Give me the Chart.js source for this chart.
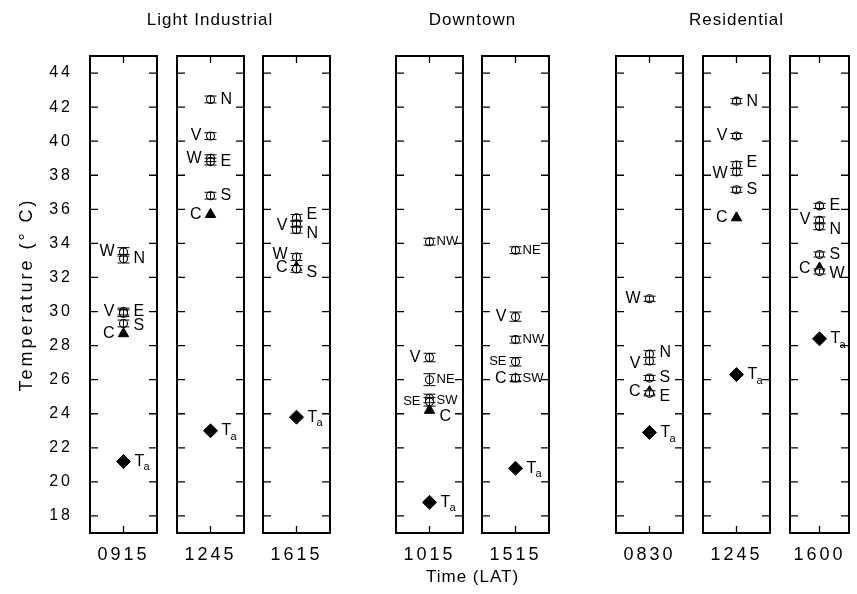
<!DOCTYPE html>
<html>
<head>
<meta charset="utf-8">
<script src="https://cdn.jsdelivr.net/npm/chart.js@4"></script>
<style>
  body { margin: 0; background: #fff; }
  #wrap { position: relative; width: 857px; height: 594px; overflow: hidden; }
  #wrap canvas { position: absolute; left: 0; top: 0; }
</style>
</head>
<body>
<div id="wrap"></div>
<script>
/* ===============================
   DATA
=============================== */
const times = ["0915", "1245", "1615", "1015", "1515", "0830", "1245", "1600"];
const siteNames = ["Light Industrial", "Downtown", "Residential"];
const siteOfPanel = [0, 0, 0, 1, 1, 2, 2, 2];

const stationNames = [
    ["W", "N", "V", "E", "S"],
    ["N", "V", "W", "E", "S"],
    ["E", "V", "N", "W", "S"],
    ["NW", "V", "NE", "SE", "SW"],
    ["NE", "V", "NW", "SE", "SW"],
    ["W", "N", "V", "S", "E"],
    ["N", "V", "E", "W", "S"],
    ["E", "V", "N", "S", "W"]
];
const stationTemps = [
    [33.5, 33.1, 30.0, 29.9, 29.3],
    [42.45, 40.3, 39.0, 38.8, 36.8],
    [35.5, 35.15, 34.8, 33.2, 32.5],
    [34.1, 27.3, 26.0, 24.9, 24.7],
    [33.6, 29.7, 28.35, 27.05, 26.1],
    [30.75, 27.5, 27.1, 26.1, 25.2],
    [42.35, 40.3, 38.6, 38.2, 37.15],
    [36.2, 35.35, 35.0, 33.35, 32.35]
];
const stationErrs = [
    [0.25, 0.25, 0.2, 0.2, 0.2],
    [0.2, 0.2, 0.2, 0.2, 0.2],
    [0.2, 0.2, 0.2, 0.2, 0.2],
    [0.2, 0.25, 0.35, 0.25, 0.25],
    [0.2, 0.27, 0.2, 0.25, 0.2],
    [0.15, 0.2, 0.2, 0.15, 0.15],
    [0.15, 0.15, 0.2, 0.2, 0.15],
    [0.15, 0.2, 0.2, 0.15, 0.15]
];
const coreTemps = [28.7, 35.7, 32.6, 24.2, 26.05, 25.3, 35.5, 32.55];   // C
const airTemps = [21.2, 23.0, 23.8, 18.8, 20.8, 22.9, 26.3, 28.4];      // Ta
const yMin = 17;
const yMax = 45;
const yTicks = [18, 20, 22, 24, 26, 28, 30, 32, 34, 36, 38, 40, 42, 44];

/* ===============================
   LAYOUT
=============================== */
const W = 857, H = 594;
const panelLeft = [90, 177, 263, 396, 482, 616, 703, 790];
const panelWidth = 67;
const plotTop = 56, plotBottom = 533;
const labelSides = [
    ["L", "R", "L", "R", "R"],
    ["R", "L", "L", "R", "R"],
    ["R", "L", "R", "L", "R"],
    ["R", "L", "R", "L", "R"],
    ["R", "L", "R", "L", "R"],
    ["L", "R", "L", "R", "R"],
    ["R", "L", "R", "L", "R"],
    ["R", "L", "R", "R", "R"]
];
// small vertical label shifts (px) where letters would collide
const labelNudge = [
    [0, 0, 0, -2, 2],
    [0, 0, 0, 0, 0],
    [-3, 2, 4, -2, 4],
    [0, 0, 0, 3, -1],
    [0, 0, 0, 0, 0],
    [0, -2, 3, 0, 3],
    [0, 0, -2, 2, 0],
    [0, -1, 3, 0, 2]
];
const coreSides = ["L", "L", "L", "R", "L", "L", "L", "L"];
const FONT = "'Liberation Sans', Arial, sans-serif";

/* ===============================
   PANEL PLUGIN
=============================== */
function panelPlugin(i) {
    return {
        id: "panel" + i,
        beforeDraw(chart) {
            chart.ctx.letterSpacing = "3px";
        },
        beforeDatasetsDraw(chart) {
            chart.ctx.letterSpacing = "0px";
        },
        afterDatasetsDraw(chart) {
            const ctx = chart.ctx;
            const a = chart.chartArea;
            const ys = chart.scales.y;
            const cx = chart.scales.x.getPixelForValue(0);

            ctx.save();
            ctx.strokeStyle = "#000";
            ctx.fillStyle = "#000";

            /* error bars */
            ctx.lineWidth = 1;
            stationTemps[i].forEach((t, k) => {
                const e = stationErrs[i][k];
                const y1 = ys.getPixelForValue(t + e);
                const y2 = ys.getPixelForValue(t - e);
                ctx.beginPath();
                ctx.moveTo(cx, y1); ctx.lineTo(cx, y2);
                ctx.moveTo(cx - 6, y1); ctx.lineTo(cx + 6, y1);
                ctx.moveTo(cx - 6, y2); ctx.lineTo(cx + 6, y2);
                ctx.stroke();
            });

            /* station labels */
            ctx.textBaseline = "middle";
            stationNames[i].forEach((n, k) => {
                const y = ys.getPixelForValue(stationTemps[i][k]) + labelNudge[i][k];
                ctx.font = (n.length > 1 ? "13px " : "16px ") + FONT;
                if (labelSides[i][k] === "L") {
                    ctx.textAlign = "right";
                    ctx.fillText(n, cx - 9, y);
                } else {
                    ctx.textAlign = "left";
                    ctx.fillText(n, cx + (n.length > 1 ? 7 : 10), y);
                }
            });

            /* C label */
            ctx.font = "16px " + FONT;
            const yc = ys.getPixelForValue(coreTemps[i]);
            if (coreSides[i] === "L") {
                ctx.textAlign = "right";
                ctx.fillText("C", cx - 9, yc);
            } else {
                ctx.textAlign = "left";
                ctx.fillText("C", cx + 10, yc + 6);
            }

            /* Ta label */
            const ya = ys.getPixelForValue(airTemps[i]);
            ctx.textAlign = "left";
            ctx.font = "16px " + FONT;
            ctx.fillText("T", cx + 11, ya);
            ctx.font = "11px " + FONT;
            ctx.fillText("a", cx + 20, ya + 6);

            /* frame */
            ctx.lineWidth = 2;
            ctx.strokeRect(a.left, a.top, a.right - a.left, a.bottom - a.top);

            /* inner ticks */
            ctx.lineWidth = 1.3;
            ctx.beginPath();
            yTicks.forEach(v => {
                const y = ys.getPixelForValue(v);
                ctx.moveTo(a.left, y); ctx.lineTo(a.left + 8, y);
                ctx.moveTo(a.right, y); ctx.lineTo(a.right - 8, y);
            });
            ctx.moveTo(cx, a.top); ctx.lineTo(cx, a.top + 7);
            ctx.moveTo(cx, a.bottom); ctx.lineTo(cx, a.bottom - 7);
            ctx.stroke();

            /* group titles */
            const s = siteOfPanel[i];
            if (siteOfPanel.indexOf(s) === i) {
                const first = panelLeft[i];
                const last = siteOfPanel.lastIndexOf(s);
                const mid = (first + panelLeft[last] + panelWidth) / 2;
                ctx.letterSpacing = "1px";
                ctx.font = "17px " + FONT;
                ctx.textAlign = "center";
                ctx.fillText(siteNames[s], mid, 20);
            }

            /* x title */
            if (i === 3) {
                ctx.letterSpacing = "1px";
                ctx.font = "17px " + FONT;
                ctx.textAlign = "center";
                ctx.fillText("Time (LAT)", (panelLeft[3] + panelLeft[4] + panelWidth) / 2, 577);
            }
            ctx.restore();
        }
    };
}

/* ===============================
   CHARTS
=============================== */
const wrap = document.getElementById("wrap");

times.forEach((time, i) => {
    const canvas = document.createElement("canvas");
    canvas.width = W;
    canvas.height = H;
    wrap.appendChild(canvas);

    const first = i === 0;

    new Chart(canvas, {
        type: "scatter",
        data: {
            datasets: [
                {
                    data: stationTemps[i].map(t => ({ x: 0, y: t })),
                    pointStyle: "circle",
                    pointRadius: 4,
                    borderColor: "#000",
                    backgroundColor: "#fff",
                    borderWidth: 1.1
                },
                {
                    data: [{ x: 0, y: coreTemps[i] }],
                    pointStyle: "triangle",
                    pointRadius: 6,
                    borderColor: "#000",
                    backgroundColor: "#000",
                    borderWidth: 1
                },
                {
                    data: [{ x: 0, y: airTemps[i] }],
                    pointStyle: "rectRot",
                    pointRadius: 7,
                    borderColor: "#000",
                    backgroundColor: "#000",
                    borderWidth: 1
                }
            ]
        },
        options: {
            responsive: false,
            animation: false,
            devicePixelRatio: 1,
            events: [],
            layout: {
                padding: {
                    left: first ? 0 : panelLeft[i],
                    right: W - panelLeft[i] - panelWidth,
                    top: plotTop,
                    bottom: H - plotBottom - 36
                }
            },
            plugins: {
                legend: { display: false },
                tooltip: { enabled: false }
            },
            scales: {
                x: {
                    type: "linear",
                    min: -1,
                    max: 1,
                    grid: { display: false },
                    border: { display: false },
                    ticks: {
                        stepSize: 1,
                        autoSkip: false,
                        maxRotation: 0,
                        padding: 3,
                        color: "#000",
                        font: { family: FONT, size: 18 },
                        callback: v => (v === 0 ? time : "")
                    },
                    afterFit: s => { s.height = 36; }
                },
                y: {
                    display: first,
                    min: yMin,
                    max: yMax,
                    grid: { display: false },
                    border: { display: false },
                    ticks: {
                        autoSkip: false,
                        padding: 9,
                        color: "#000",
                        font: { family: FONT, size: 16 }
                    },
                    afterBuildTicks: s => { s.ticks = yTicks.map(v => ({ value: v })); },
                    title: {
                        display: first,
                        text: "Temperature (° C)",
                        color: "#000",
                        font: { family: FONT, size: 18 },
                        padding: { top: 16, bottom: 0 }
                    },
                    afterFit: s => { if (first) s.width = 90; }
                }
            }
        },
        plugins: [panelPlugin(i)]
    });
});
</script>
</body>
</html>
